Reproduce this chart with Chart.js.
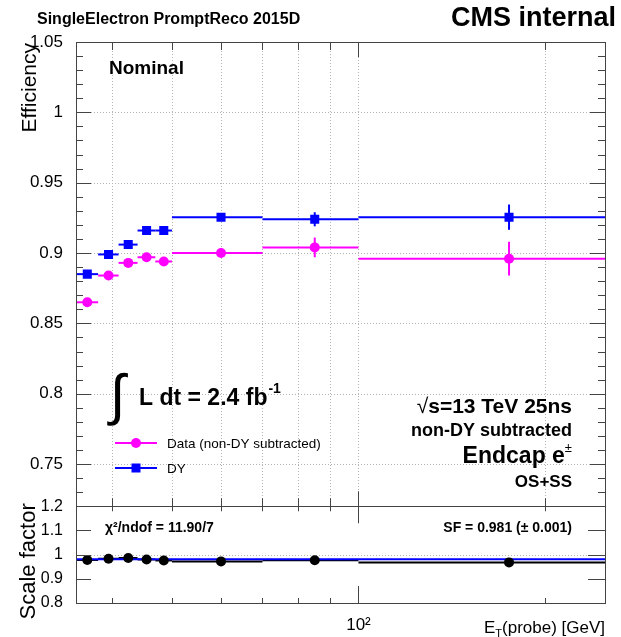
<!DOCTYPE html>
<html lang="en">
<head>
<meta charset="UTF-8">
<title>SingleElectron PromptReco 2015D</title>
<script src="https://cdn.jsdelivr.net/npm/chart.js"></script>
<style>
  body { margin: 0; background: #fff; }
  canvas { display: block; }
</style>
</head>
<body>
<canvas id="effChart" width="621" height="637"></canvas>
<script>
// E_T(probe) bins [GeV]
const binEdges = [35, 38, 41, 44, 47, 50, 70, 100, 250];
const binCenters = [36.5, 39.5, 42.5, 45.5, 48.5, 60, 85, 175];

// efficiencies
const dataEff = [0.865, 0.884, 0.893, 0.897, 0.894, 0.900, 0.904, 0.896];
const dataErr = [0.002, 0.002, 0.002, 0.002, 0.003, 0.002, 0.007, 0.012];
const dyEff = [0.885, 0.899, 0.906, 0.916, 0.916, 0.9255, 0.924, 0.9255];
const dyErr = [0.001, 0.001, 0.001, 0.001, 0.001, 0.002, 0.005, 0.009];

// scale factor data/DY and the constant fit
const sfValues = [0.978, 0.983, 0.986, 0.980, 0.976, 0.972, 0.977, 0.968];
const sfErr = [0.002, 0.002, 0.002, 0.002, 0.003, 0.003, 0.009, 0.015];
const sfFit = 0.981;

// axis ticks
const xTicks = [40, 50, 60, 70, 80, 90, 100, 200];
const effTicks = [0.75, 0.8, 0.85, 0.9, 0.95, 1, 1.05];
const sfTicks = [0.8, 0.9, 1, 1.1, 1.2];

const FONT = '"Liberation Sans", Arial, Helvetica, sans-serif';
const PINK = '#ff00ff';
const BLUE = '#0000ff';

const pts = vals => binCenters.map((x, i) => ({ x: x, y: vals[i] }));

function txt(ctx, s, x, y, size, bold, align) {
    ctx.font = (bold ? 'bold ' : '') + size + 'px ' + FONT;
    ctx.textAlign = align || 'left';
    ctx.textBaseline = 'alphabetic';
    ctx.fillStyle = '#000';
    ctx.fillText(s, x, y);
}
function width(ctx, s, size, bold) {
    ctx.font = (bold ? 'bold ' : '') + size + 'px ' + FONT;
    return ctx.measureText(s).width;
}
function seg(ctx, x1, y1, x2, y2) {
    ctx.beginPath();
    ctx.moveTo(x1, y1);
    ctx.lineTo(x2, y2);
    ctx.stroke();
}

// ROOT-like look: dotted grid, bin widths + error bars, inner ticks, labels
const rootStyle = {
    id: 'rootStyle',
    beforeDatasetsDraw(chart) {
        const { ctx, chartArea: a, scales: { x, y, y2 } } = chart;
        ctx.save();
        ctx.strokeStyle = '#b4b4b4';
        ctx.lineWidth = 1;
        ctx.setLineDash([1, 2]);
        xTicks.forEach(v => {
            const px = Math.round(x.getPixelForValue(v)) + 0.5;
            seg(ctx, px, y.top, px, y.bottom);
        });
        effTicks.forEach(v => {
            const py = Math.round(y.getPixelForValue(v)) + 0.5;
            seg(ctx, a.left, py, a.right, py);
        });
        const one = Math.round(y2.getPixelForValue(1)) + 0.5;
        seg(ctx, a.left, one, a.right, one);
        ctx.setLineDash([]);

        // bin widths and vertical error bars
        chart.data.datasets.forEach(ds => {
            if (!ds.errY) return;
            const ys = chart.scales[ds.yAxisID];
            ctx.strokeStyle = ds.borderColor;
            ctx.lineWidth = 2;
            ds.data.forEach((p, k) => {
                const py = ys.getPixelForValue(p.y);
                seg(ctx, x.getPixelForValue(binEdges[k]), py, x.getPixelForValue(binEdges[k + 1]), py);
                const px = x.getPixelForValue(p.x);
                seg(ctx, px, ys.getPixelForValue(p.y - ds.errY[k]), px, ys.getPixelForValue(p.y + ds.errY[k]));
            });
        });
        ctx.restore();
    },
    afterDraw(chart) {
        const { ctx, chartArea: a, scales: { x, y, y2 } } = chart;
        ctx.save();
        ctx.strokeStyle = '#444';
        ctx.lineWidth = 1;

        // frames
        [y, y2].forEach(s => {
            ctx.strokeRect(Math.round(a.left) + 0.5, Math.round(s.top) + 0.5,
                Math.round(a.right - a.left), Math.round(s.bottom - s.top));
        });

        // x ticks on both pads
        [[y, 15, 8], [y2, 17, 5]].forEach(([s, big, small]) => {
            xTicks.forEach(v => {
                const px = Math.round(x.getPixelForValue(v)) + 0.5;
                const len = v === 100 ? big : small;
                seg(ctx, px, s.top, px, s.top + len);
                seg(ctx, px, s.bottom, px, s.bottom - len);
            });
        });
        // y ticks, upper pad
        for (let i = 72; i <= 105; i++) {
            const v = i / 100;
            const py = Math.round(y.getPixelForValue(v)) + 0.5;
            const len = i % 5 === 0 ? 15 : 7;
            seg(ctx, a.left, py, a.left + len, py);
            seg(ctx, a.right, py, a.right - len, py);
        }
        // y ticks, lower pad
        sfTicks.forEach(v => {
            const py = Math.round(y2.getPixelForValue(v)) + 0.5;
            seg(ctx, a.left, py, a.left + 15, py);
            seg(ctx, a.right, py, a.right - 17, py);
        });

        // header
        txt(ctx, 'SingleElectron PromptReco 2015D', 37, 24, 16, true);
        txt(ctx, 'CMS internal', 616, 26, 27, true, 'right');

        // axis titles
        ctx.save();
        ctx.translate(36, y.top + 1);
        ctx.rotate(-Math.PI / 2);
        txt(ctx, 'Efficiency', 0, 0, 21, false, 'right');
        ctx.restore();
        ctx.save();
        ctx.translate(35, y2.top - 3);
        ctx.rotate(-Math.PI / 2);
        txt(ctx, 'Scale factor', 0, 0, 22, false, 'right');
        ctx.restore();

        // E_T(probe) [GeV]
        const rest = '(probe) [GeV]';
        const wRest = width(ctx, rest, 17, false);
        const wSub = width(ctx, 'T', 11, false);
        const wE = width(ctx, 'E', 17, false);
        const xr = a.right;
        txt(ctx, rest, xr, 633, 17, false, 'right');
        txt(ctx, 'T', xr - wRest - wSub, 637, 11, false);
        txt(ctx, 'E', xr - wRest - wSub - wE, 633, 17, false);

        // in-plot labels
        txt(ctx, 'Nominal', 109, 74, 19, true);

        txt(ctx, '\u222B', 110, 414, 56, false);
        txt(ctx, 'L dt = 2.4 fb', 139, 405, 23, true);
        const wLumi = width(ctx, 'L dt = 2.4 fb', 23, true);
        txt(ctx, '-1', 139 + wLumi + 1, 393, 14, true);

        // legend
        const legend = [[PINK, 'circle', 'Data (non-DY subtracted)', 443], [BLUE, 'rect', 'DY', 468]];
        legend.forEach(([col, shape, label, ly]) => {
            ctx.strokeStyle = col;
            ctx.fillStyle = col;
            ctx.lineWidth = 2;
            seg(ctx, 115, ly, 157, ly);
            if (shape === 'circle') {
                ctx.beginPath();
                ctx.arc(136, ly, 5, 0, Math.PI * 2);
                ctx.fill();
            } else {
                ctx.fillRect(131.5, ly - 4.5, 9, 9);
            }
            ctx.font = '13.5px ' + FONT;
            ctx.fillStyle = '#000';
            ctx.textAlign = 'left';
            ctx.textBaseline = 'middle';
            ctx.fillText(label, 167, ly + 1);
        });

        // right-hand block
        const rx = 572;
        const wS = width(ctx, 's=13 TeV 25ns', 21, true);
        txt(ctx, 's=13 TeV 25ns', rx, 413, 21, true, 'right');
        txt(ctx, '\u221A', rx - wS, 413, 21, false, 'right');
        txt(ctx, 'non-DY subtracted', rx, 436, 18, true, 'right');
        const wPm = width(ctx, '\u00B1', 13, false);
        txt(ctx, 'Endcap e', rx - wPm, 463, 23, true, 'right');
        txt(ctx, '\u00B1', rx - wPm, 452, 13, false);
        txt(ctx, 'OS+SS', rx, 487, 17, true, 'right');

        // lower pad labels
        txt(ctx, '\u03C7\u00B2/ndof = 11.90/7', 105, 532, 14, true);
        txt(ctx, 'SF = 0.981 (\u00B1 0.001)', rx, 532, 14, true, 'right');
        ctx.restore();
    }
};

const ctx = document.getElementById('effChart').getContext('2d');
const chart = new Chart(ctx, {
    type: 'scatter',
    data: {
        datasets: [
            {
                label: 'Data (non-DY subtracted)',
                data: pts(dataEff),
                errY: dataErr,
                yAxisID: 'y',
                pointStyle: 'circle',
                pointRadius: 5,
                borderWidth: 0,
                backgroundColor: PINK,
                borderColor: PINK
            },
            {
                label: 'DY',
                data: pts(dyEff),
                errY: dyErr,
                yAxisID: 'y',
                pointStyle: 'rect',
                pointRadius: 6.4,
                borderWidth: 0,
                backgroundColor: BLUE,
                borderColor: BLUE
            },
            {
                label: 'Scale factor',
                data: pts(sfValues),
                errY: sfErr,
                yAxisID: 'y2',
                pointStyle: 'circle',
                pointRadius: 5,
                borderWidth: 0,
                backgroundColor: '#000',
                borderColor: '#000'
            },
            {
                label: 'SF fit',
                data: [{ x: binEdges[0], y: sfFit }, { x: binEdges[binEdges.length - 1], y: sfFit }],
                yAxisID: 'y2',
                showLine: true,
                pointRadius: 0,
                borderWidth: 2,
                borderColor: BLUE
            }
        ]
    },
    options: {
        responsive: false,
        animation: false,
        layout: { padding: { left: 0, top: 42, right: 16, bottom: 0 } },
        plugins: {
            legend: { display: false },
            tooltip: { enabled: false }
        },
        scales: {
            x: {
                type: 'logarithmic',
                min: binEdges[0],
                max: binEdges[binEdges.length - 1],
                grid: { display: false },
                border: { display: false },
                afterBuildTicks: s => { s.ticks = xTicks.map(v => ({ value: v })); },
                afterFit: s => { s.height = 34; },
                ticks: {
                    autoSkip: false,
                    maxRotation: 0,
                    padding: 4,
                    color: '#000',
                    font: { family: FONT, size: 17 },
                    callback: v => (v === 100 ? '10\u00B2' : '')
                }
            },
            // lower pad listed first so it stacks below the efficiency pad
            y2: {
                type: 'linear',
                position: 'left',
                stack: 'pads',
                stackWeight: 1,
                min: 0.8,
                max: 1.2,
                grid: { display: false },
                border: { display: false },
                afterBuildTicks: s => { s.ticks = sfTicks.map(v => ({ value: v })); },
                afterFit: s => { s.width = 76; },
                ticks: { autoSkip: false, padding: 5, color: '#000', font: { family: FONT, size: 16 }, callback: v => String(v) }
            },
            y: {
                type: 'linear',
                position: 'left',
                stack: 'pads',
                stackWeight: 4.8,
                min: 0.72,
                max: 1.05,
                grid: { display: false },
                border: { display: false },
                afterBuildTicks: s => { s.ticks = effTicks.map(v => ({ value: v })); },
                afterFit: s => { s.width = 76; },
                ticks: { autoSkip: false, padding: 5, color: '#000', font: { family: FONT, size: 17 }, callback: v => String(v) }
            }
        }
    },
    plugins: [rootStyle]
});
</script>
</body>
</html>
